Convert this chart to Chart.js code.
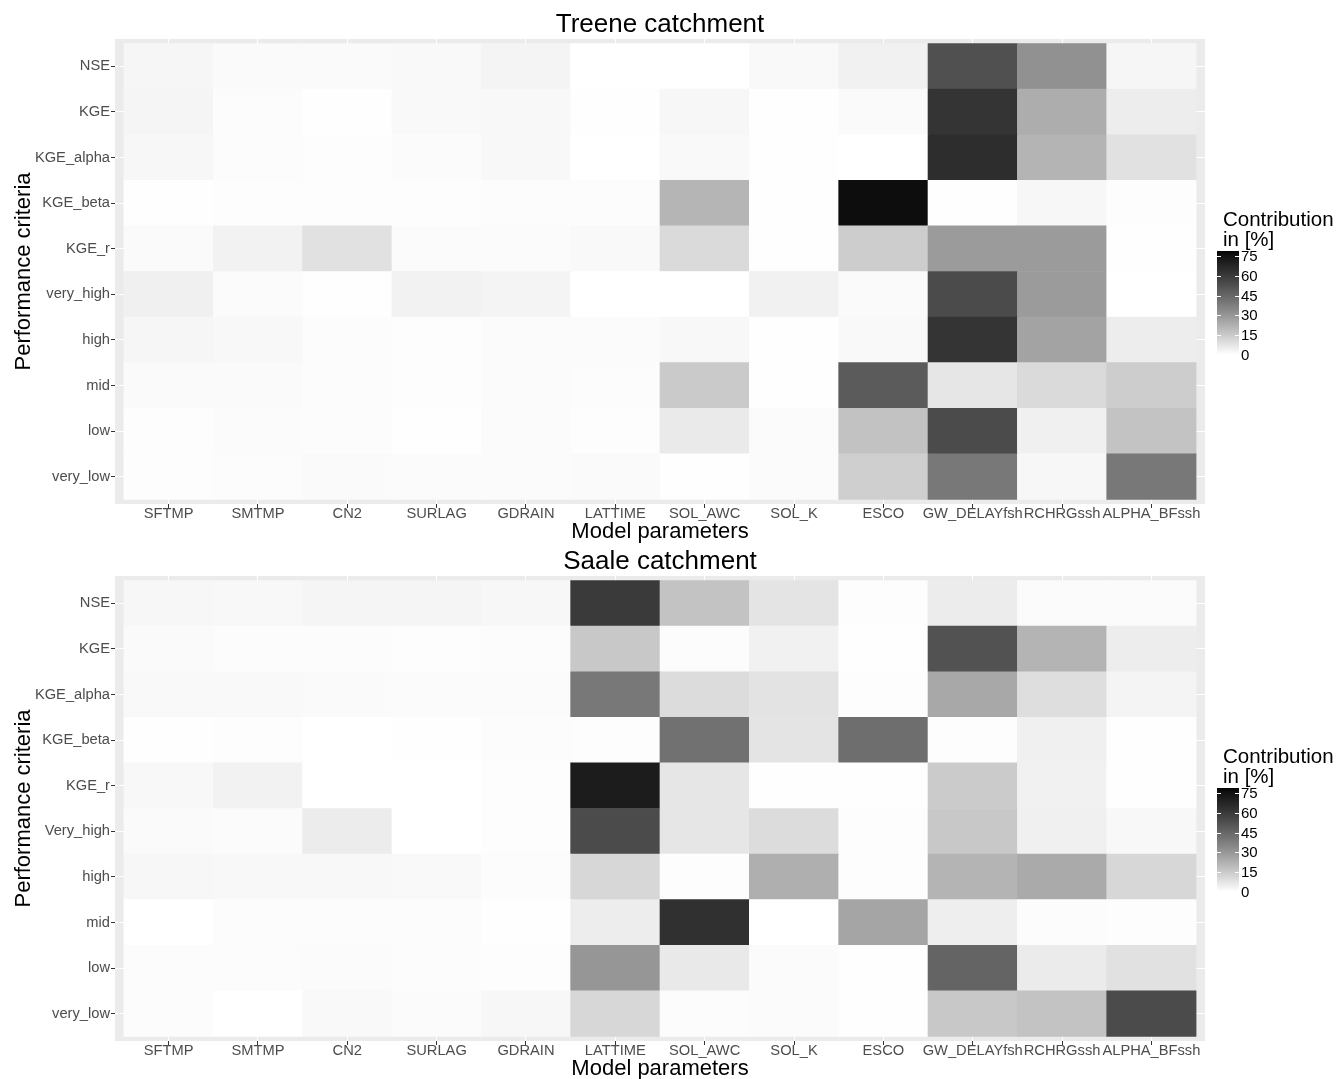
<!DOCTYPE html>
<html>
<head>
<meta charset="utf-8">
<script src="https://cdn.jsdelivr.net/npm/chart.js@4.4.1/dist/chart.umd.min.js"></script>
<style>
  html, body { margin: 0; padding: 0; background: #fff; overflow: hidden; }
  #wrap { position: relative; width: 1338px; height: 1079px; }
  canvas { position: absolute; left: 0; }
  #treene { top: 0; }
  #saale { top: 537px; }
</style>
</head>
<body>
<div id="wrap">
  <canvas id="treene" width="1338" height="545"></canvas>
  <canvas id="saale" width="1338" height="545"></canvas>
</div>
<script>
// parameters on the x axis
const params = ['SFTMP', 'SMTMP', 'CN2', 'SURLAG', 'GDRAIN', 'LATTIME', 'SOL_AWC',
  'SOL_K', 'ESCO', 'GW_DELAYfsh', 'RCHRGssh', 'ALPHA_BFssh'];

// performance criteria on the y axis (top to bottom)
const rowsTreene = ['NSE', 'KGE', 'KGE_alpha', 'KGE_beta', 'KGE_r',
  'very_high', 'high', 'mid', 'low', 'very_low'];
const rowsSaale = ['NSE', 'KGE', 'KGE_alpha', 'KGE_beta', 'KGE_r',
  'Very_high', 'high', 'mid', 'low', 'very_low'];

// contribution in % - one row per criterion, one value per parameter
const treeneValues = [
  [2.5, 1.4, 1.4, 1.6, 3.0, 0.0, 0.0, 1.6, 3.8, 52.1, 31.5, 2.5],
  [2.7, 0.8, 0.3, 1.7, 1.9, 0.3, 2.2, 0.3, 1.4, 61.9, 23.1, 4.9],
  [2.2, 0.8, 0.6, 1.2, 1.9, 0.0, 1.7, 0.3, 0.0, 64.4, 21.1, 8.3],
  [0.3, 0.6, 0.6, 0.6, 0.8, 0.8, 20.8, 0.3, 76.1, 0.3, 2.2, 0.6],
  [1.4, 3.5, 8.3, 1.1, 1.1, 1.7, 10.3, 0.3, 14.0, 28.4, 28.4, 0.3],
  [4.1, 1.1, 0.3, 3.5, 3.0, 0.0, 0.0, 3.8, 1.4, 53.8, 28.4, 0.0],
  [2.5, 1.9, 0.8, 0.6, 1.1, 1.1, 1.9, 0.3, 1.7, 61.9, 26.0, 4.9],
  [1.4, 1.4, 0.8, 0.6, 1.1, 0.8, 14.8, 0.3, 48.4, 6.9, 10.3, 14.0],
  [0.6, 1.1, 0.8, 0.3, 1.1, 0.6, 5.7, 1.1, 17.1, 53.8, 4.1, 16.8],
  [0.6, 0.8, 1.4, 1.1, 1.1, 1.4, 0.3, 1.1, 13.4, 39.2, 2.2, 39.2]
];

const saaleValues = [
  [2.2, 1.9, 2.7, 2.7, 2.2, 59.7, 16.8, 7.4, 0.6, 5.2, 1.1, 1.1],
  [1.4, 0.8, 0.8, 0.6, 0.8, 15.3, 0.8, 3.8, 0.3, 51.4, 21.1, 4.9],
  [1.7, 1.7, 1.4, 1.2, 1.1, 39.2, 9.7, 7.7, 0.6, 24.6, 9.1, 3.0],
  [0.3, 0.6, 0.0, 0.3, 0.8, 0.6, 41.4, 7.4, 42.3, 0.6, 4.1, 0.3],
  [1.9, 3.5, 0.0, 0.0, 0.6, 71.0, 6.9, 0.3, 0.3, 14.5, 3.8, 0.3],
  [1.4, 1.1, 5.2, 0.0, 0.6, 53.8, 6.9, 9.7, 0.6, 15.3, 4.1, 1.9],
  [2.2, 1.9, 1.9, 1.7, 0.8, 11.1, 0.6, 22.5, 0.6, 21.1, 24.0, 11.1],
  [0.0, 0.8, 0.8, 0.8, 0.3, 4.9, 63.3, 0.0, 25.4, 4.6, 0.8, 0.6],
  [0.8, 0.8, 1.1, 0.8, 0.6, 29.9, 6.0, 1.1, 0.3, 45.5, 5.5, 8.3],
  [0.8, 0.0, 1.7, 1.1, 2.2, 11.1, 0.8, 1.1, 0.3, 15.3, 16.8, 53.8]
];

// colour bar breaks
const legendTicks = [0, 15, 30, 45, 60, 75];
const VMAX = 79;

const FONT = "'Liberation Sans', Arial, sans-serif";

// white -> black gradient, interpolated in Lab lightness
function greyFor(v) {
  const L = 100 * (1 - Math.min(Math.max(v, 0), VMAX) / VMAX);
  const Y = L > 8 ? Math.pow((L + 16) / 116, 3) : L / 903.3;
  const c = Y <= 0.0031308 ? 12.92 * Y : 1.055 * Math.pow(Y, 1 / 2.4) - 0.055;
  const g = Math.round(255 * c);
  return `rgb(${g},${g},${g})`;
}

// grey panel behind the tiles
const panelBg = {
  id: 'panelBg',
  beforeDraw(chart) {
    const { ctx, chartArea: a } = chart;
    ctx.save();
    ctx.fillStyle = '#EBEBEB';
    ctx.fillRect(a.left, a.top, a.right - a.left, a.bottom - a.top);
    ctx.restore();
  }
};

// gradient legend on the right
const colourBar = {
  id: 'colourBar',
  afterDraw(chart) {
    const ctx = chart.ctx;
    const x0 = 1217, w = 22, yZero = 355, perUnit = 1.32;
    ctx.save();
    const h = Math.round(VMAX * perUnit);
    for (let p = 0; p < h; p++) {
      ctx.fillStyle = greyFor(p / perUnit);
      ctx.fillRect(x0, yZero - p - 1, w, 1);
    }
    ctx.strokeStyle = '#fff';
    ctx.lineWidth = 1;
    ctx.font = `15px ${FONT}`;
    ctx.fillStyle = '#000';
    ctx.textBaseline = 'middle';
    ctx.textAlign = 'left';
    legendTicks.forEach(t => {
      const y = Math.round(yZero - t * perUnit) + 0.5;
      ctx.beginPath();
      ctx.moveTo(x0, y); ctx.lineTo(x0 + 4, y);
      ctx.moveTo(x0 + w - 4, y); ctx.lineTo(x0 + w, y);
      ctx.stroke();
      ctx.fillText(String(t), x0 + w + 2, y);
    });
    ctx.font = `20.5px ${FONT}`;
    ctx.fillText('Contribution', 1223, 220);
    ctx.fillText('in [%]', 1223, 240);
    ctx.restore();
  }
};

function makePanel(id, title, rows, values) {
  const cells = [];
  values.forEach((row, r) => {
    row.forEach((v, c) => cells.push({ x: c, y: [r - 0.5, r + 0.5], v: v }));
  });

  const tickFont = { family: FONT, size: 14.7 };
  const gridOpts = {
    offset: false,
    color: '#fff', lineWidth: 1,
    drawTicks: true, tickLength: 4, tickColor: '#333', tickWidth: 1
  };

  return new Chart(document.getElementById(id), {
    type: 'bar',
    data: {
      datasets: [{
        data: cells,
        backgroundColor: ctx => greyFor(ctx.raw.v),
        borderWidth: 0,
        barPercentage: 1,
        categoryPercentage: 1
      }]
    },
    options: {
      responsive: false,
      animation: false,
      events: [],
      layout: { padding: { left: 0, right: 133, top: 0, bottom: 0 } },
      plugins: {
        legend: { display: false },
        tooltip: { enabled: false },
        title: {
          display: true,
          text: title,
          fullSize: false,
          color: '#000',
          font: { family: FONT, size: 26, weight: 'normal', lineHeight: 1 },
          padding: { top: 12, bottom: 1 }
        }
      },
      scales: {
        x: {
          type: 'linear',
          offset: false,
          min: -0.6,
          max: 11.6,
          afterBuildTicks: s => { s.ticks = params.map((_, i) => ({ value: i })); },
          afterFit: s => { s.height = 41; },
          ticks: {
            callback: v => params[v],
            autoSkip: false, maxRotation: 0, minRotation: 0,
            color: '#4D4D4D', font: tickFont, padding: -3
          },
          grid: gridOpts,
          border: { display: false },
          title: {
            display: true, text: 'Model parameters', color: '#000',
            font: { family: FONT, size: 22 }, padding: { top: 0, bottom: 0 }
          }
        },
        y: {
          type: 'linear',
          offset: false,
          reverse: true,
          min: -0.6,
          max: 9.6,
          afterBuildTicks: s => { s.ticks = rows.map((_, i) => ({ value: i })); },
          afterFit: s => { s.width = 115; },
          ticks: {
            callback: v => rows[v],
            autoSkip: false,
            color: '#4D4D4D', font: tickFont, padding: 1
          },
          grid: gridOpts,
          border: { display: false },
          title: {
            display: true, text: 'Performance criteria', color: '#000',
            font: { family: FONT, size: 22 }, padding: { top: 11, bottom: 0 }
          }
        }
      }
    },
    plugins: [panelBg, colourBar]
  });
}

makePanel('treene', 'Treene catchment', rowsTreene, treeneValues);
makePanel('saale', 'Saale catchment', rowsSaale, saaleValues);
</script>
</body>
</html>
